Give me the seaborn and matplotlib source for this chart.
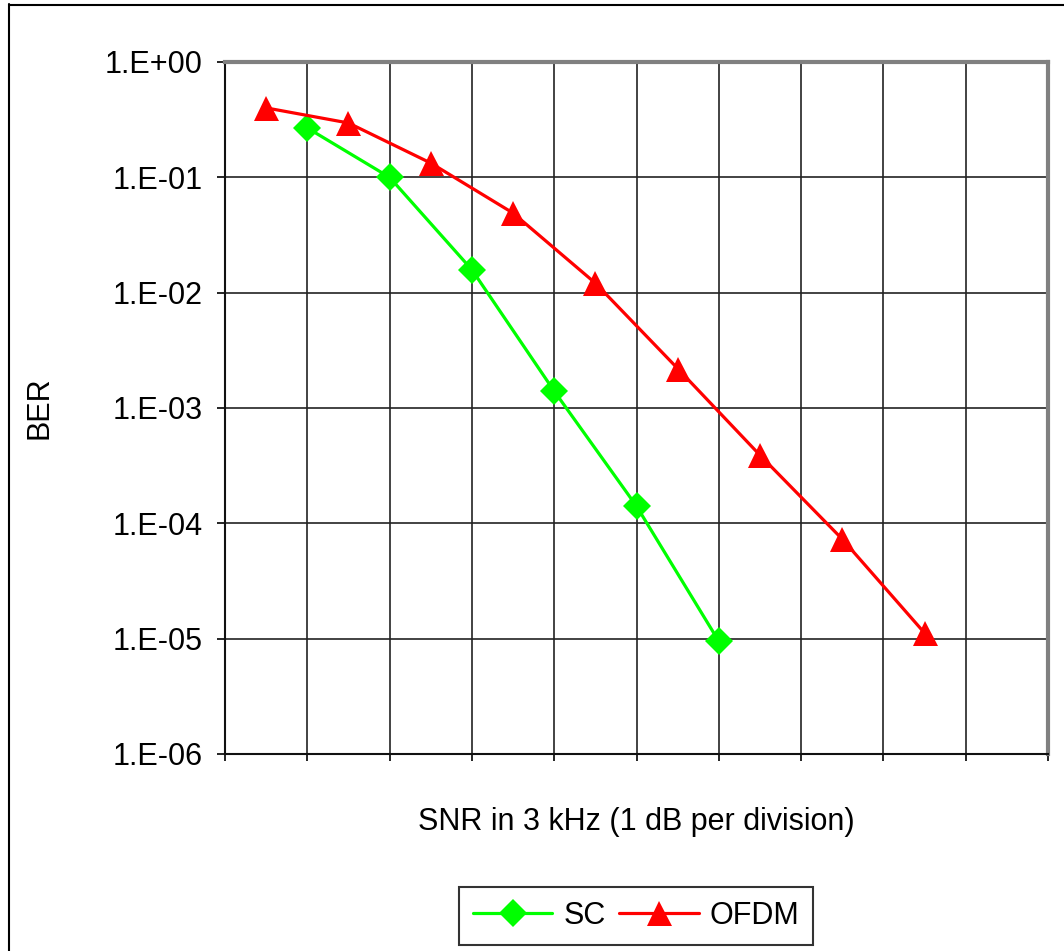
import numpy as np
import pandas as pd
import seaborn as sns
import matplotlib.pyplot as plt
from matplotlib.lines import Line2D
from matplotlib.ticker import FixedLocator, NullFormatter

# SNR position in divisions (1 dB per division), BER
sc_snr = [1, 2, 3, 4, 5, 6]
sc_ber = [0.268, 0.100, 0.0158, 0.0014, 1.41e-4, 9.5e-6]

ofdm_snr = [0.5, 1.5, 2.5, 3.5, 4.5, 5.5, 6.5, 7.5, 8.5]
ofdm_ber = [0.40, 0.296, 0.133, 0.049, 0.0121, 0.0022, 3.9e-4, 7.3e-5, 1.12e-5]

y_ticks = [1e0, 1e-1, 1e-2, 1e-3, 1e-4, 1e-5, 1e-6]
y_labels = ["1.E+00", "1.E-01", "1.E-02", "1.E-03", "1.E-04", "1.E-05", "1.E-06"]

sns.set_style("white")
plt.rcParams['font.family'] = ['Liberation Sans', 'DejaVu Sans']
plt.rcParams['text.color'] = 'black'
plt.rcParams['axes.labelcolor'] = 'black'
plt.rcParams['ytick.color'] = 'black'
plt.rcParams['xtick.color'] = 'black'

fig = plt.figure(figsize=(10.64, 9.51), dpi=100)
ax = fig.add_axes([225 / 1064, 1 - 754 / 951, (1048 - 225) / 1064, (754 - 62) / 951])

sns.lineplot(x=sc_snr, y=sc_ber, ax=ax, color="#00FF00", marker="D", markersize=14,
             markeredgewidth=0, linewidth=2.3, label="SC")
sns.lineplot(x=ofdm_snr, y=ofdm_ber, ax=ax, color="#FF0000", marker="^", markersize=18,
             markeredgewidth=0, linewidth=2.3, label="OFDM")

ax.set_yscale("log")
ax.set_ylim(1e-6, 1)
ax.set_xlim(0, 10)
ax.yaxis.set_major_locator(FixedLocator(y_ticks))
ax.set_yticklabels(y_labels)
ax.yaxis.set_minor_formatter(NullFormatter())
ax.yaxis.set_minor_locator(FixedLocator([]))
ax.set_xticks(np.arange(0, 11))
ax.set_xticklabels([])

ax.grid(True, which="major", color="#222222", linewidth=1.2)
ax.tick_params(axis="y", which="major", direction="out", length=6, width=1.2,
               labelsize=22, left=True, pad=10, colors="black")
ax.tick_params(axis="x", which="major", direction="out", length=5, width=1.2, bottom=True)

for side in ["left", "bottom"]:
    ax.spines[side].set_color("#111111")
    ax.spines[side].set_linewidth(1.5)
for side in ["top", "right"]:
    ax.spines[side].set_color("#808080")
    ax.spines[side].set_linewidth(3)

ax.set_ylabel("BER", fontsize=22)
ax.set_xlabel("SNR in 3 kHz (1 dB per division)", fontsize=22, labelpad=30)
ax.yaxis.set_label_coords(-170 / 823, 0.5)

leg = ax.legend(loc="center", bbox_to_anchor=(636 / 1064, 1 - 916 / 951),
                bbox_transform=fig.transFigure, ncol=2, fontsize=22, frameon=True,
                fancybox=False, edgecolor="black", handlelength=2.6, handletextpad=0.35,
                columnspacing=0.45, borderpad=0.45, borderaxespad=0)
leg.get_frame().set_linewidth(1.5)

# outer chart border (top and left visible in the reference)
fig.add_artist(Line2D([8.5 / 1064, 8.5 / 1064], [0, 1 - 4 / 951], color="black", linewidth=1.5,
                      transform=fig.transFigure))
fig.add_artist(Line2D([8.5 / 1064, 1], [1 - 4.5 / 951, 1 - 4.5 / 951], color="black", linewidth=1.5,
                      transform=fig.transFigure))

fig.savefig("out.png", dpi=100)
